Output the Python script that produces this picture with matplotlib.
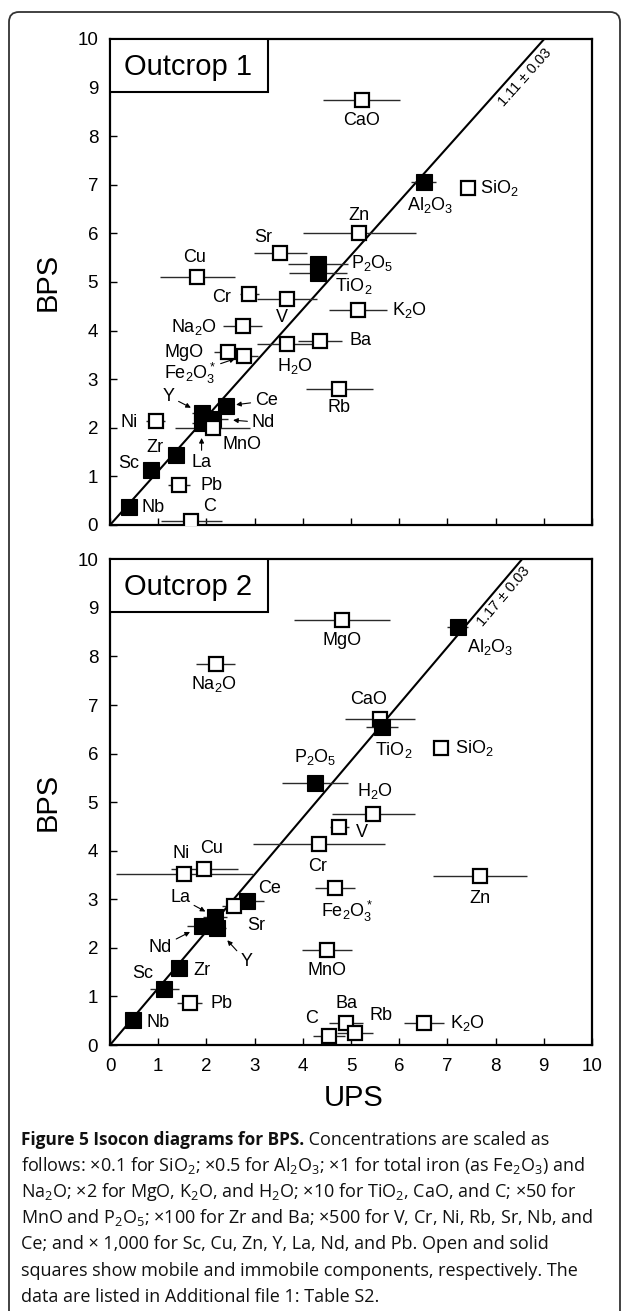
import numpy as np
import matplotlib
matplotlib.use('Agg')
import matplotlib.pyplot as plt
from matplotlib.patches import FancyBboxPatch, Rectangle
from matplotlib.transforms import IdentityTransform

# ---------------- data: Outcrop 1 ----------------
names1 = ['CaO', 'Al2O3', 'SiO2', 'Zn', 'Sr', 'P2O5', 'TiO2', 'Cu', 'Cr', 'V', 'K2O',
          'Na2O', 'Ba', 'H2O', 'MgO', 'Fe2O3*', 'Rb', 'Ce', 'Y', 'Nd', 'La', 'MnO',
          'Ni', 'Zr', 'Sc', 'Pb', 'Nb', 'C']
ups1 = [5.22, 6.51, 7.42, 5.17, 3.53, 4.32, 4.32, 1.81, 2.89, 3.67, 5.15,
        2.75, 4.36, 3.67, 2.45, 2.77, 4.76, 2.41, 1.90, 2.14, 1.90, 2.13,
        0.95, 1.37, 0.86, 1.44, 0.40, 1.69]
bps1 = [8.74, 7.06, 6.94, 6.01, 5.60, 5.38, 5.18, 5.11, 4.75, 4.65, 4.42,
        4.10, 3.79, 3.72, 3.55, 3.48, 2.79, 2.45, 2.30, 2.19, 2.10, 1.99,
        2.13, 1.44, 1.13, 0.82, 0.38, 0.09]
err1 = [0.80, 0.26, 0.00, 1.17, 0.55, 0.62, 0.60, 0.78, 0.20, 0.63, 0.60,
        0.41, 0.45, 0.62, 0.30, 0.30, 0.70, 0.00, 0.20, 0.30, 0.20, 0.78,
        0.20, 0.00, 0.00, 0.23, 0.00, 0.64]
immobile1 = ['Al2O3', 'P2O5', 'TiO2', 'Ce', 'Y', 'Nd', 'La', 'Zr', 'Sc', 'Nb']
slope1 = 1.11
slope_text1 = '1.11 ± 0.03'

# ---------------- data: Outcrop 2 ----------------
names2 = ['MgO', 'Al2O3', 'Na2O', 'CaO', 'TiO2', 'SiO2', 'P2O5', 'H2O', 'V', 'Cr',
          'Ni', 'Cu', 'Zn', 'Fe2O3*', 'Ce', 'Sr', 'La', 'Nd', 'Y', 'MnO', 'Zr',
          'Sc', 'Pb', 'Nb', 'Ba', 'Rb', 'C', 'K2O']
ups2 = [4.81, 7.21, 2.19, 5.60, 5.64, 6.86, 4.25, 5.46, 4.76, 4.34,
        1.54, 1.96, 7.68, 4.67, 2.84, 2.58, 2.18, 1.90, 2.21, 4.50, 1.44,
        1.13, 1.65, 0.48, 4.90, 5.08, 4.55, 6.51]
bps2 = [8.75, 8.60, 7.84, 6.71, 6.55, 6.11, 5.39, 4.76, 4.49, 4.13,
        3.52, 3.62, 3.47, 3.23, 2.96, 2.86, 2.64, 2.45, 2.40, 1.96, 1.58,
        1.15, 0.86, 0.51, 0.46, 0.24, 0.19, 0.46]
err2 = [1.00, 0.22, 0.41, 0.73, 0.33, 0.00, 0.69, 0.86, 0.20, 1.37,
        1.42, 0.69, 0.97, 0.41, 0.35, 0.25, 0.25, 0.30, 0.20, 0.52, 0.00,
        0.30, 0.26, 0.00, 0.35, 0.37, 0.33, 0.41]
immobile2 = ['Al2O3', 'TiO2', 'P2O5', 'Ce', 'La', 'Nd', 'Y', 'Zr', 'Sc', 'Nb']
slope2 = 1.17
slope_text2 = '1.17 ± 0.03'

ticks = list(range(0, 11))

# ---------------- layout (label offsets in pixels) ----------------
lab1 = {
    'CaO': (0, -20, 'center'), 'Al2O3': (6, -23, 'center'), 'SiO2': (12, 0, 'left'),
    'Zn': (0, 17, 'center'), 'Sr': (-17, 15, 'center'), 'P2O5': (33, 1, 'left'),
    'TiO2': (17, -13, 'left'), 'Cu': (-3, 19, 'center'), 'Cr': (-18, -3, 'right'),
    'V': (-5, -18, 'center'), 'K2O': (34, 0, 'left'), 'Na2O': (-26, -1, 'right'),
    'Ba': (29, 0, 'left'), 'H2O': (8, -22, 'center'), 'MgO': (-24, 0, 'right'),
    'Rb': (0, -18, 'center'), 'MnO': (29, -16, 'center'), 'Ni': (-18, -1, 'right'),
    'Zr': (-21, 8, 'center'), 'Sc': (-12, 7, 'right'), 'Pb': (21, 0, 'left'),
    'Nb': (12, -1, 'left'), 'C': (18, 14, 'center'),
    'Fe2O3*': (-53, -18, 'arrow', 9), 'Y': (-33, 17, 'arrow', 12),
    'Ce': (40, 5, 'arrow', 10), 'Nd': (50, -4, 'arrow', 20), 'La': (0, -40, 'arrow', 15),
}
lab2 = {
    'MgO': (0, -20, 'center'), 'Al2O3': (33, -20, 'center'), 'Na2O': (-2, -20, 'center'),
    'CaO': (-11, 20, 'center'), 'TiO2': (12, -23, 'center'), 'SiO2': (14, 0, 'left'),
    'P2O5': (0, 26, 'center'), 'H2O': (2, 23, 'center'), 'V': (22, -6, 'center'),
    'Cr': (-2, -22, 'center'), 'Ni': (-3, 21, 'center'), 'Cu': (7, 21, 'center'),
    'Zn': (0, -22, 'center'), 'Fe2O3*': (12, -23, 'center'), 'Ce': (23, 13, 'center'),
    'Sr': (22, -19, 'center'), 'MnO': (0, -21, 'center'), 'Zr': (23, -2, 'center'),
    'Sc': (-22, 16, 'center'), 'Pb': (21, 0, 'left'), 'Nb': (13, -2, 'left'),
    'Ba': (0, 19, 'center'), 'Rb': (26, 18, 'center'), 'C': (-18, 17, 'center'),
    'K2O': (26, 0, 'left'),
    'La': (-35, 19, 'arrow', 11), 'Nd': (-41, -21, 'arrow', 13), 'Y': (30, -33, 'arrow', 16),
}

W, H = 629, 1311
DPI = 100
SANS = ['Liberation Sans', 'DejaVu Sans']
CAP = ['Open Sans', 'DejaVu Sans']
plt.rcParams['font.family'] = SANS

fig = plt.figure(figsize=(W / DPI, H / DPI), dpi=DPI)


def px_axes(left, top, right, bottom):
    return [left / W, 1 - bottom / H, (right - left) / W, (bottom - top) / H]


def fmt(name):
    out = ''
    i = 0
    while i < len(name):
        c = name[i]
        if c.isdigit():
            if i + 1 < len(name) and name[i + 1] == '*':
                out += '$\\mathregular{_%s^*}$' % c
                i += 2
                continue
            out += '$\\mathregular{_%s}$' % c
        else:
            out += c
        i += 1
    return out


def panel(ax, names, ups, bps, err, immobile, slope, labs, title, showx):
    ax.set_xlim(0, 10)
    ax.set_ylim(0, 10)
    ax.set_xticks(ticks)
    ax.set_yticks(ticks)
    for s in ax.spines.values():
        s.set_linewidth(1.6)
    ax.tick_params(direction='in', length=5, width=1.0, top=False, right=False,
                   labelsize=13.5, pad=8.5)
    ax.tick_params(axis='x', pad=9.5)
    if not showx:
        ax.tick_params(labelbottom=False)
    xl = np.array([0, 10.0])
    ax.plot(xl, slope * xl, color='black', lw=1.5, zorder=1.5)
    ax.errorbar(ups, bps, xerr=err, fmt='none', ecolor='#2a2a2a', elinewidth=1.0,
                capsize=0, zorder=2)
    for i, (n, x, y) in enumerate(zip(names, ups, bps)):
        solid = n in immobile
        ax.plot([x], [y], ls='none', marker='s',
                ms=11.2 if solid else 9.6,
                mfc='black' if solid else 'white', mec='black',
                mew=0.8 if solid else 1.6, zorder=3 + i * 0.01)
        spec = labs[n]
        if spec[2] == 'arrow':
            ax.annotate(fmt(n), xy=(x, y), xytext=(spec[0], spec[1]),
                        textcoords='offset pixels', ha='center', va='center',
                        fontsize=13,
                        arrowprops=dict(arrowstyle='-|>', lw=0.8, color='black',
                                        mutation_scale=7, shrinkA=1,
                                        shrinkB=spec[3] * 0.72),
                        zorder=6)
        else:
            ax.annotate(fmt(n), xy=(x, y), xytext=(spec[0], spec[1]),
                        textcoords='offset pixels', ha=spec[2], va='center',
                        fontsize=13, zorder=6)
    ax.add_patch(Rectangle((0, 0.891), 0.328, 0.109, transform=ax.transAxes,
                           facecolor='white', edgecolor='black', lw=1.5, zorder=7))
    ax.text(0.162, 0.943, title, transform=ax.transAxes, ha='center', va='center',
            fontsize=21, zorder=8)
    return ax


ax1 = fig.add_axes(px_axes(110, 39, 592, 525))
ax2 = fig.add_axes(px_axes(110, 559.3, 592, 1045))
panel(ax1, names1, ups1, bps1, err1, immobile1, slope1, lab1, 'Outcrop 1', False)
panel(ax2, names2, ups2, bps2, err2, immobile2, slope2, lab2, 'Outcrop 2', True)

for ax, slope, stext, yy, dx in [(ax1, slope1, slope_text1, 9.22, 14.5),
                                  (ax2, slope2, slope_text2, 9.23, 13.0)]:
    x0 = yy / slope
    ang = ax.transData.transform_angles(np.array([np.degrees(np.arctan(slope))]),
                                        np.array([[x0, yy]]))[0]
    ax.annotate(stext, xy=(x0, yy), xytext=(dx, 0), textcoords='offset pixels',
                rotation=ang, rotation_mode='anchor', ha='center', va='center',
                fontsize=10.5, zorder=6)

fig.text(48 / W, 1 - 282 / H, 'BPS', rotation=90, ha='center', va='center', fontsize=21)
fig.text(48 / W, 1 - 802 / H, 'BPS', rotation=90, ha='center', va='center', fontsize=21)
fig.text(354 / W, 1 - 1098 / H, 'UPS', ha='center', va='center', fontsize=21)

frame = FancyBboxPatch((9, -30), 611, H - 12 + 30,
                       boxstyle='round,pad=0,rounding_size=10',
                       transform=IdentityTransform(), fill=False, lw=1.3,
                       edgecolor='#333333')
fig.add_artist(frame)

cap_lines = [
    ' Concentrations are scaled as',
    'follows: ×0.1 for SiO$\\mathregular{_2}$; ×0.5 for Al$\\mathregular{_2}$O$\\mathregular{_3}$; ×1 for total iron (as Fe$\\mathregular{_2}$O$\\mathregular{_3}$) and',
    'Na$\\mathregular{_2}$O; ×2 for MgO, K$\\mathregular{_2}$O, and H$\\mathregular{_2}$O; ×10 for TiO$\\mathregular{_2}$, CaO, and C; ×50 for',
    'MnO and P$\\mathregular{_2}$O$\\mathregular{_5}$; ×100 for Zr and Ba; ×500 for V, Cr, Ni, Rb, Sr, Nb, and',
    'Ce; and × 1,000 for Sc, Cu, Zn, Y, La, Nd, and Pb. Open and solid',
    'squares show mobile and immobile components, respectively. The',
    'data are listed in Additional file 1: Table S2.',
]
cap_bold = 'Figure 5 Isocon diagrams for BPS.'
x0 = 21 / W
base0 = 1145
lh = 26.1
cfs = 13.0
tb = fig.text(x0, 1 - base0 / H, cap_bold, family=CAP, fontweight='bold',
              fontsize=12.4, ha='left', va='baseline', color='#111111')
fig.canvas.draw()
bb = tb.get_window_extent()
fig.text(bb.x1 / W, 1 - base0 / H, cap_lines[0], family=CAP, fontsize=cfs,
         ha='left', va='baseline', color='#111111')
for k, line in enumerate(cap_lines[1:], start=1):
    fig.text(x0, 1 - (base0 + k * lh) / H, line, family=CAP, fontsize=cfs,
             ha='left', va='baseline', color='#111111')

fig.savefig('out.png', dpi=DPI)
